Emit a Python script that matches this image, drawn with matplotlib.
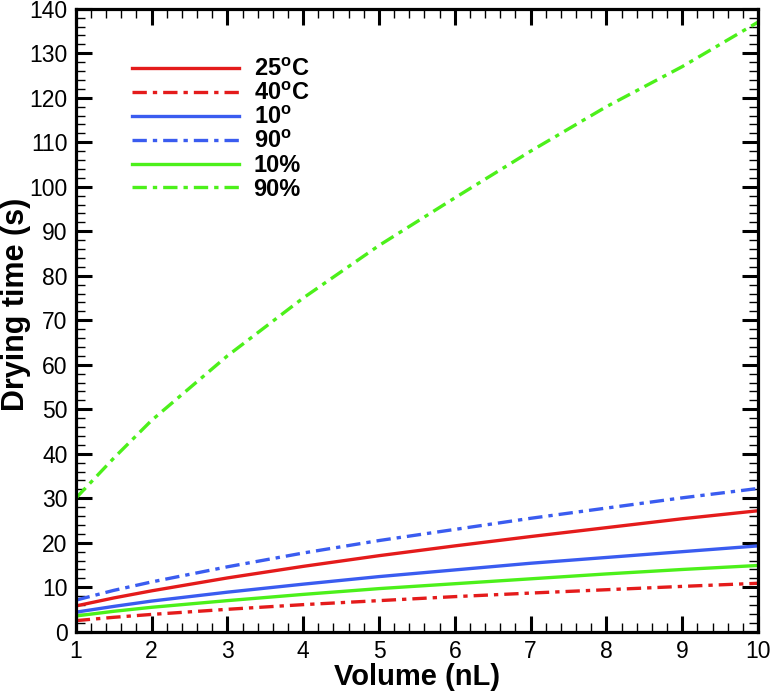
import matplotlib
matplotlib.use("Agg")
import matplotlib.pyplot as plt
from matplotlib.ticker import MultipleLocator

plt.rcParams['font.family'] = ['Liberation Sans', 'DejaVu Sans']
plt.rcParams['mathtext.fontset'] = 'custom'
plt.rcParams['mathtext.rm'] = 'Liberation Sans:bold'
plt.rcParams['mathtext.bf'] = 'Liberation Sans:bold'

volume = [1, 1.5, 2, 3, 4, 5, 6, 7, 8, 9, 10]
t_25C = [5.8, 7.6, 9.2, 12.1, 14.7, 17.1, 19.3, 21.4, 23.4, 25.4, 27.2]
t_40C = [2.5, 3.25, 3.9, 5.05, 6.1, 7.0, 7.9, 8.7, 9.45, 10.2, 10.9]
t_10deg = [4.4, 5.7, 6.9, 8.9, 10.7, 12.4, 13.9, 15.4, 16.7, 18.0, 19.3]
t_90deg = [7.1, 9.3, 11.2, 14.6, 17.7, 20.5, 23.0, 25.5, 27.8, 30.1, 32.2]
t_10pct = [3.55, 4.6, 5.5, 7.0, 8.4, 9.7, 10.8, 11.9, 13.0, 14.0, 14.9]
t_90pct = [30.0, 39.0, 47.5, 62.0, 75.0, 86.8, 97.5, 108.0, 118.0, 127.0, 137.0]

labels = [r'25$^{\mathbf{o}}$C', r'40$^{\mathbf{o}}$C', r'10$^{\mathbf{o}}$',
          r'90$^{\mathbf{o}}$', '10%', '90%']

red = '#e41b1b'
blue = '#3a5cf0'
green = '#4cf01a'
dd = (0, (4.3, 1.8, 1.3, 1.8))

fig = plt.figure(figsize=(7.73, 6.91), dpi=100)
ax = fig.add_axes([0.098, 0.0857, 0.8826, 0.9016])

lw = 2.4
series = [
    (t_25C, red, '-'),
    (t_40C, red, dd),
    (t_10deg, blue, '-'),
    (t_90deg, blue, dd),
    (t_10pct, green, '-'),
    (t_90pct, green, dd),
]
for (vals, c, ls), lab in zip(series, labels):
    ax.plot(volume, vals, color=c, linestyle=ls, linewidth=lw, label=lab)

ax.set_xlim(1, 10)
ax.set_ylim(0, 140)
ax.xaxis.set_major_locator(MultipleLocator(1))
ax.xaxis.set_minor_locator(MultipleLocator(0.2))
ax.yaxis.set_major_locator(MultipleLocator(10))
ax.yaxis.set_minor_locator(MultipleLocator(2))
ax.tick_params(which='both', direction='in', top=True, right=True, labelsize=16.5)
ax.tick_params(which='major', length=11.5, width=2.2, pad=6)
ax.tick_params(which='minor', length=6.5, width=1.0)
for s in ax.spines.values():
    s.set_linewidth(2.3)

ax.set_xlabel('Volume (nL)', fontsize=21, fontweight='bold', labelpad=0)
ax.set_ylabel('Drying time (s)', fontsize=22, fontweight='bold')
ax.yaxis.set_label_coords(-0.066, 0.525)

leg = ax.legend(loc='upper left', bbox_to_anchor=(132 / 773, 1 - 58 / 691),
                bbox_transform=fig.transFigure, frameon=False,
                prop={'size': 17, 'weight': 'bold'},
                handlelength=4.55, handletextpad=0.6, labelspacing=0.04,
                borderaxespad=0, borderpad=0)

fig.savefig('out.png', dpi=100)
